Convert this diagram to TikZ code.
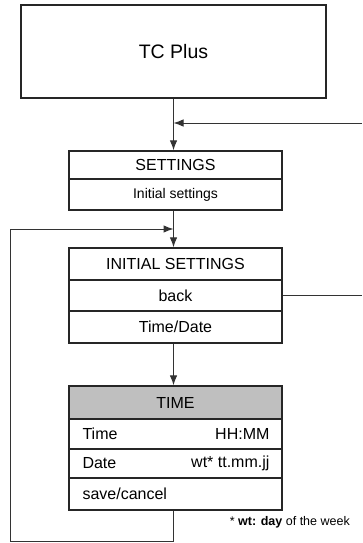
\documentclass[tikz,border=0pt]{standalone}
\usepackage{fontspec}
\setmainfont{Liberation Sans}
\usetikzlibrary{arrows.meta}
\begin{document}
\begin{tikzpicture}[x=1pt,y=-1pt,
  box/.style={draw=black!85,line width=1.3pt,rectangle,inner sep=0pt,minimum width=213pt,font=\fontsize{16}{18}\selectfont},
  conn/.style={draw=black!80,line width=1pt},
  arr/.style={conn,-{Latex[length=10pt,width=7.5pt]}},
  lbl/.style={inner sep=0pt,font=\fontsize{16}{18}\selectfont}]
\useasboundingbox (0,0) rectangle (362,543);
\node[box,minimum width=305pt,minimum height=93pt,font=\fontsize{19.5}{22}\selectfont] (tc) at (173.5,51.5) {TC Plus};
% SETTINGS
\node[box,minimum height=28pt] (s1) at (175.5,165) {SETTINGS};
\node[box,minimum height=31pt,font=\fontsize{14}{17}\selectfont] (s2) at (175.5,194.5) {Initial settings};
% INITIAL SETTINGS
\node[box,minimum height=32pt] (i1) at (175.5,264) {INITIAL SETTINGS};
\node[box,minimum height=31pt] (i2) at (175.5,295.5) {back};
\node[box,minimum height=32pt] (i3) at (175.5,327) {Time/Date};
% TIME
\node[box,minimum height=33pt,fill=gray!50] (t1) at (175.5,402.5) {TIME};
\node[box,minimum height=30pt] (t2) at (175.5,434) {};
\node[box,minimum height=29pt] (t3) at (175.5,463.5) {};
\node[box,minimum height=32pt] (t4) at (175.5,494) {};
\node[lbl,anchor=west] (t2l) at ([xshift=14pt]t2.west) {Time};
\node[lbl,anchor=east] (t2r) at ([xshift=-13pt]t2.east) {HH:MM};
\node[lbl,anchor=west] (t3l) at ([xshift=14pt]t3.west) {Date};
\node[lbl,anchor=east] (t3r) at ([xshift=-13pt]t3.east) {wt* tt.mm.jj};
\node[lbl,anchor=west] (t4l) at ([xshift=14pt]t4.west) {save/cancel};
\node[inner sep=0pt,anchor=east,font=\fontsize{12.5}{14}\selectfont] (fn) at (350,522) {* \textbf{wt: day} of the week};
% connectors
\coordinate (rin) at (362,123);
\coordinate (m1) at (173.5,123);
\coordinate (rout) at (362,295.5);
\coordinate (lp1) at (173.5,541.5);
\coordinate (lp2) at (10,541.5);
\coordinate (lp3) at (10,229);
\coordinate (lp4) at (173.5,229);
\draw[arr] (tc.south) -- (tc.south |- s1.north);
\draw[arr] (rin) -- (m1);
\draw[arr] (tc.south |- s2.south) -- (tc.south |- i1.north);
\draw[arr] (tc.south |- i3.south) -- (tc.south |- t1.north);
\draw[conn] (i2.east) -- (rout);
\draw[conn] (tc.south |- t4.south) -- (lp1) -- (lp2) -- (lp3);
\draw[arr] (lp3) -- (lp4);
\end{tikzpicture}
\end{document}
